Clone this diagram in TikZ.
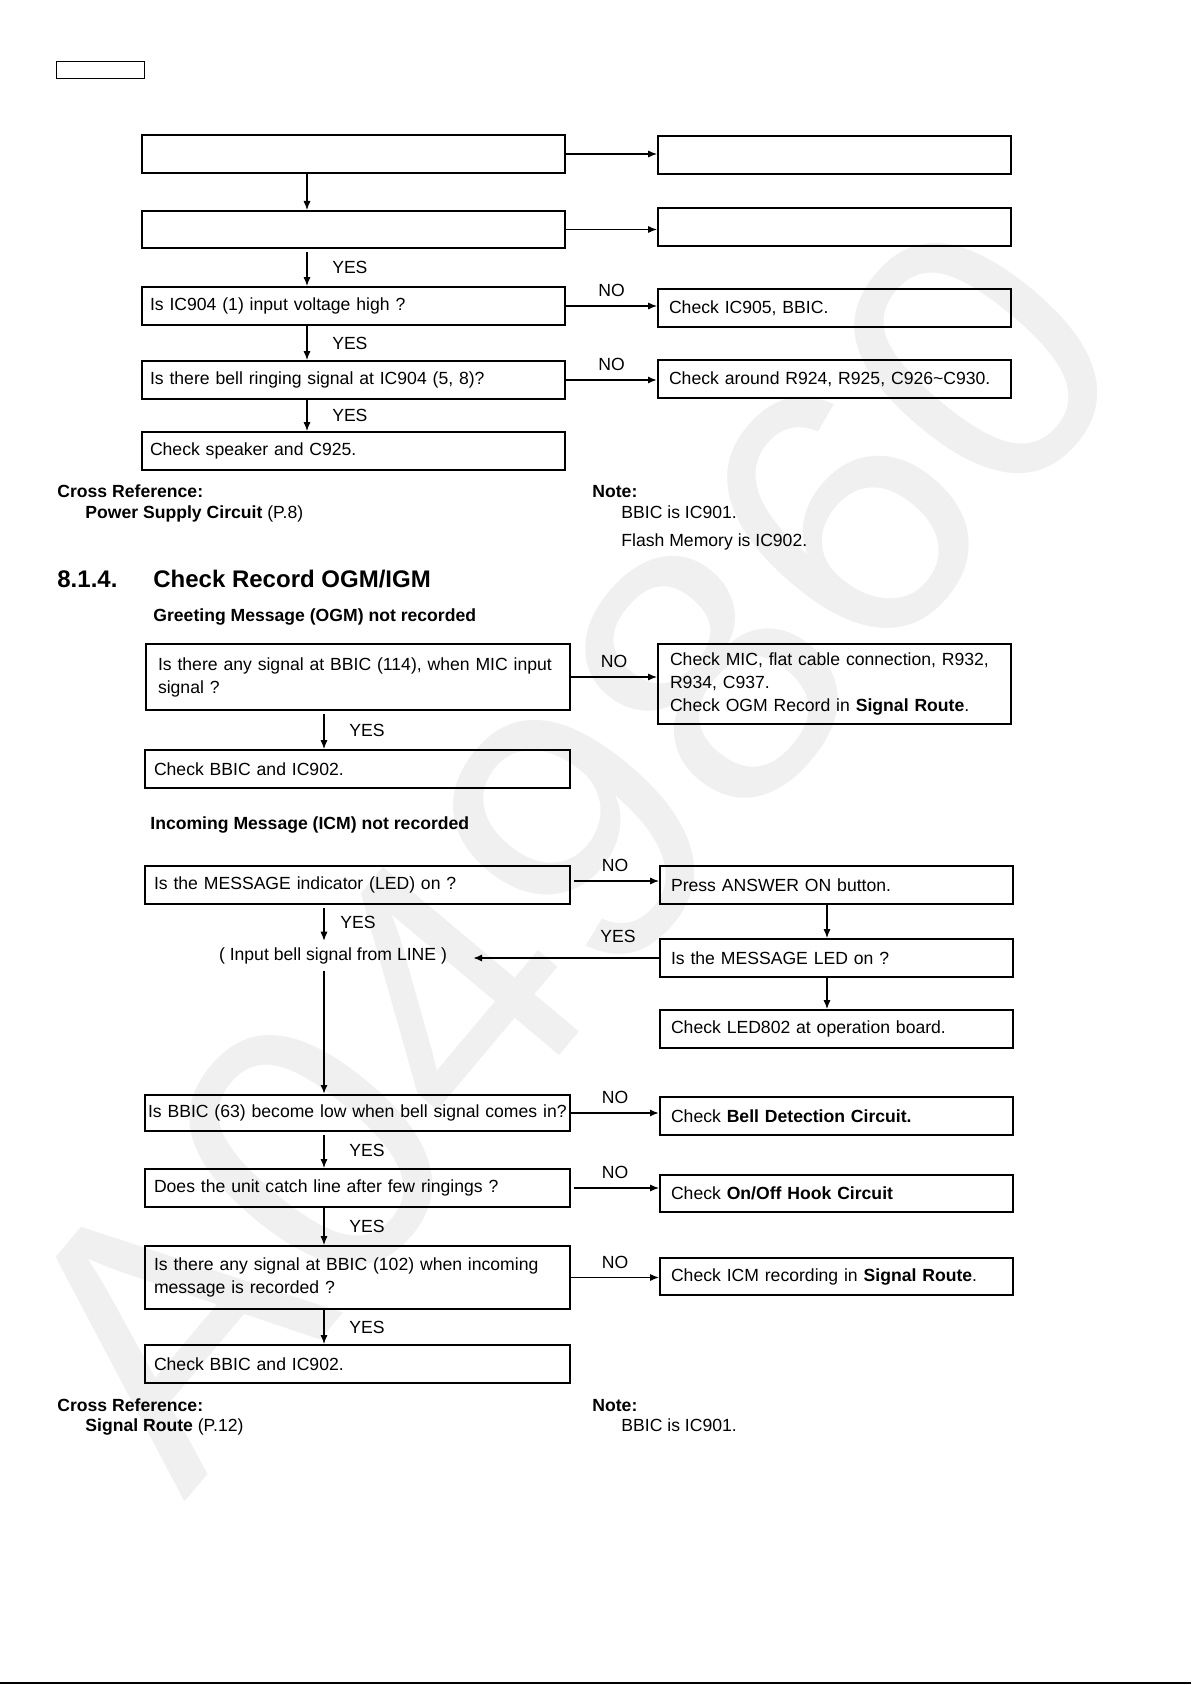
\documentclass[tikz,border=0pt]{standalone}
\usepackage{fontspec}
\setmainfont{Liberation Sans}
\usetikzlibrary{arrows.meta, positioning}
\newcommand{\chkfont}{\fontsize{8.8pt}{11.5pt}\selectfont}
\tikzstyle{chkbox}   = [rectangle, draw, line width=1pt, anchor=north west, align=left,
                        inner ysep=0pt, minimum height=19pt, font=\chkfont]
\tikzstyle{leftbox}  = [chkbox, inner xsep=4.5pt, text width=203pt]
\tikzstyle{rightbox} = [chkbox, inner xsep=5.5pt, text width=165.5pt]
\tikzstyle{chkarrow} = [line width=0.6pt, -{Latex[length=4.5pt,width=3.6pt]}]
\tikzstyle{downlbl}  = [font=\chkfont, right, xshift=9pt]
\tikzstyle{sidelbl}  = [font=\chkfont, above, yshift=1pt]
\tikzstyle{pagetext} = [font=\chkfont, anchor=base west, inner sep=0pt]

\begin{document}
\begin{tikzpicture}[x=0.5pt, y=-0.5pt]
    \useasboundingbox (0,0) rectangle (1191,1685);
    \node[rotate=50, text=black!6, font=\fontsize{186pt}{190pt}\selectfont] (wmark) at (565,850) {A049860};
    \coordinate (topcol) at (307,0);
    \coordinate (ogmcol) at (324,0);
    \coordinate (rcol) at (827,0);

    % bell ringing check (upper part)
    \node (tag) [draw, line width=0.5pt, anchor=north west, minimum width=44pt, minimum height=8.5pt, inner sep=0pt] at (56,61) {};
    \node (a1) [leftbox, inner xsep=4pt, text width=203.5pt] at (141,134) {};
    \node (b1) [rightbox] at (657,135) {};
    \node (a2) [leftbox, inner xsep=4pt, text width=203.5pt, minimum height=18.5pt] at (141,210) {};
    \node (b2) [rightbox] at (657,207) {};
    \node (a3) [leftbox, inner xsep=4pt, text width=203.5pt] at (141,286) {Is IC904 (1) input voltage high ?};
    \node (b3) [rightbox] at (657,288) {Check IC905, BBIC.};
    \node (a4) [leftbox, inner xsep=4pt, text width=203.5pt] at (141,360) {Is there bell ringing signal at IC904 (5, 8)?};
    \node (b4) [rightbox] at (657,359) {Check around R924, R925, C926\textasciitilde C930.};
    \node (a5) [leftbox, inner xsep=4pt, text width=203.5pt] at (141,431) {Check speaker and C925.};
    \draw[chkarrow] (a1.east) -- (b1.west |- a1.east);
    \draw[chkarrow] (a1.south -| topcol) -- (a2.north -| topcol);
    \draw[chkarrow] (a2.east) -- (b2.west |- a2.east);
    \draw[chkarrow, shorten <=1.5pt] (a2.south -| topcol) -- node[downlbl] {YES} (a3.north -| topcol);
    \draw[chkarrow] (a3.east) -- node[sidelbl] {NO} (b3.west |- a3.east);
    \draw[chkarrow] (a3.south -| topcol) -- node[downlbl] {YES} (a4.north -| topcol);
    \draw[chkarrow, line width=1pt] (a4.east) -- node[sidelbl] {NO} (b4.west |- a4.east);
    \draw[chkarrow] (a4.south -| topcol) -- node[downlbl] {YES} (a5.north -| topcol);
    \node[pagetext, font=\chkfont\bfseries] (xref1) at (57,497.5) {Cross Reference:};
    \node[pagetext] (xref1a) at (85,518.5) {\textbf{Power Supply Circuit} (P.8)};
    \node[pagetext, font=\chkfont\bfseries] (note1) at (592,497.5) {Note:};
    \node[pagetext] (note1a) at (621,518.5) {BBIC is IC901.};
    \node[pagetext] (note1b) at (621,546) {Flash Memory is IC902.};

    % 8.1.4. record OGM/ICM
    \node[pagetext, font=\fontsize{12pt}{14pt}\selectfont\bfseries] (secnum) at (57,587) {8.1.4.};
    \node[pagetext, font=\fontsize{12pt}{14pt}\selectfont\bfseries] (sectitle) at (153,587) {Check Record OGM/IGM};
    \node[pagetext, font=\chkfont\bfseries] (ogmhead) at (153,621) {Greeting Message (OGM) not recorded};
    \node (g1) [leftbox, inner xsep=6pt, text width=200pt, minimum height=33pt] at (145,643) {\mbox{Is there any signal at BBIC (114), when MIC input}\\signal ?};
    \node (g2) [rightbox, inner xsep=6pt, text width=164.5pt, minimum height=40pt] at (657,643) {\mbox{Check MIC, flat cable connection, R932,}\\R934, C937.\\Check OGM Record in \textbf{Signal Route}.};
    \node (g3) [leftbox, text width=203.5pt] at (144,749) {Check BBIC and IC902.};
    \draw[chkarrow] (g1.east) -- node[sidelbl] {NO} (g2.west |- g1.east);
    \draw[chkarrow, shorten <=1.5pt] (g1.south -| ogmcol) -- node[downlbl] {YES} (g3.north -| ogmcol);

    \node[pagetext, font=\chkfont\bfseries] (icmhead) at (150,829) {Incoming Message (ICM) not recorded};
    \node (i1) [leftbox, text width=203.5pt] at (144,865) {Is the MESSAGE indicator (LED) on ?};
    \node (r1) [rightbox] at (659,865) {Press ANSWER ON button.};
    \node[font=\chkfont] (inbell) at (333,956) {( Input bell signal from LINE )};
    \node (r2) [rightbox] at (659,938) {Is the MESSAGE LED on ?};
    \node (r3) [rightbox] at (659,1009) {Check LED802 at operation board.};
    \node (i2) [leftbox, inner xsep=1.5pt, text width=209.5pt, minimum height=18pt] at (144,1094) {\mbox{Is BBIC (63) become low when bell signal comes in?}};
    \node (r4) [rightbox] at (659,1096) {Check \textbf{Bell Detection Circuit.}};
    \node (i3) [leftbox, text width=203.5pt] at (144,1168) {Does the unit catch line after few ringings ?};
    \node (r5) [rightbox, minimum height=18.5pt] at (659,1174) {Check \textbf{On/Off Hook Circuit}};
    \node (i4) [leftbox, text width=203.5pt, minimum height=31.5pt] at (144,1245) {\mbox{Is there any signal at BBIC (102) when incoming}\\message is recorded ?};
    \node (r6) [rightbox, minimum height=18.5pt] at (659,1257) {Check ICM recording in \textbf{Signal Route}.};
    \node (i5) [leftbox, text width=203.5pt] at (144,1344) {Check BBIC and IC902.};
    \coordinate (i1out) at ([yshift=2pt]i1.east);
    \draw[chkarrow, shorten <=1.5pt] (i1out) -- node[sidelbl] {NO} (r1.west |- i1out);
    \draw[chkarrow, shorten <=1.5pt] (i1.south -| ogmcol) -- node[downlbl, xshift=-4.5pt] {YES} (inbell.north -| ogmcol);
    \draw[chkarrow] (r1.south -| rcol) -- (r2.north -| rcol);
    \draw[chkarrow] (r2.south -| rcol) -- (r3.north -| rcol);
    \draw[chkarrow, line width=1pt, shorten >=9.5pt] (r2.west) -- node[sidelbl, pos=0.2, yshift=3pt] {YES} (inbell.east |- r2.west);
    \draw[chkarrow, line width=1pt] (inbell.south -| ogmcol) -- (i2.north -| ogmcol);
    \draw[chkarrow, line width=1pt] (i2.east) -- node[sidelbl] {NO} (r4.west |- i2.east);
    \draw[chkarrow, shorten <=1.5pt] (i2.south -| ogmcol) -- node[downlbl] {YES} (i3.north -| ogmcol);
    \draw[chkarrow, shorten <=1.5pt] (i3.east) -- node[sidelbl] {NO} (r5.west |- i3.east);
    \draw[chkarrow] (i3.south -| ogmcol) -- node[downlbl] {YES} (i4.north -| ogmcol);
    \draw[chkarrow] (i4.east) -- node[sidelbl] {NO} (r6.west |- i4.east);
    \draw[chkarrow] (i4.south -| ogmcol) -- node[downlbl] {YES} (i5.north -| ogmcol);
    \node[pagetext, font=\chkfont\bfseries] (xref2) at (57,1411.5) {Cross Reference:};
    \node[pagetext] (xref2a) at (85,1431.5) {\textbf{Signal Route} (P.12)};
    \node[pagetext, font=\chkfont\bfseries] (note2) at (592,1411.5) {Note:};
    \node[pagetext] (note2a) at (621,1431.5) {BBIC is IC901.};

    \draw[line width=1pt] (0,1683) -- (1191,1683);
\end{tikzpicture}
\end{document}
